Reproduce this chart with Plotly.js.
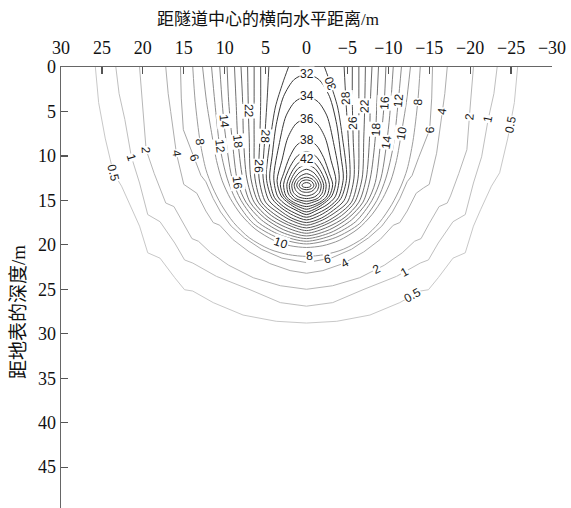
<!DOCTYPE html>
<html><head><meta charset="utf-8">
<script src="https://cdn.plot.ly/plotly-3.0.1.min.js"></script>
<style>html,body{margin:0;padding:0;background:#fff;}#chart{width:571px;height:508px;}</style>
</head><body><div id="chart"></div>
<script>
// ---- DATA ----
// contour levels
const levels = [0.5,1,2,4,6,8,10,12,14,16,18,20,22,24,26,28,30,32,34,36,38,40,42,44,46,48,50,52,54];
// half-profiles of each contour line: half-width from the tunnel axis (m) and depth (m), from top to bottom
const w_0_5 = [25.8,25.4,24.6,23.6,22.6,21.3,20.4,19.4,17.9,16.1,14.9,13.9,11.4,7.75,3.7,0];
const d_0_5 = [0,4,8,11.9,13.4,16,17.9,20.9,21.5,23.7,25.05,25.2,26.5,27.9,28.6,28.8];
const w_1 = [23.3,22.9,22.2,21.4,20.4,19.4,17.9,16.1,14.9,13.9,11.0,6.9,3.2,0];
const d_1 = [0,3,5.9,10.1,13.05,16.6,17.4,19.8,21.7,22.05,23.55,25.05,26.5,26.9];
const w_2 = [20.4,20.0,19.6,18.6,17.6,17.2,16.2,15.0,14.0,13.2,11.7,9.5,6.5,3.2,0];
const d_2 = [0,4.5,9.3,12,14.5,15.3,15.7,17.6,19.3,19.6,20.9,22.3,23.7,24.6,25.0];
const w_4 = [17.2,16.9,16.6,15.9,15.0,14.3,13.4,12.3,11.4,10.6,9.0,7.0,4.5,2.0,0];
const d_4 = [0,3,5,9.7,13.2,13.6,14.2,16.2,17.5,17.8,19.4,20.8,22.1,22.9,23.2];
const w_6 = [15.4,15.3,15.05,13.7,12.9,12.3,11.4,10.5,9.2,7.6,5.5,3.0,0];
const d_6 = [0,3.5,7.05,10.2,12.2,12.9,14.8,16.3,17.9,19.2,20.5,21.5,22.0];
const w_8 = [13.9,13.6,13.0,12.3,11.5,10.4,8.9,7.0,4.5,2.2,0];
const d_8 = [0,3.9,8.4,11.5,13.5,15.5,17.5,19.2,20.5,21.1,21.3];
const w_10 = [12.7,12.2,11.6,11.0,10.3,9.3,8.0,6.3,4.0,2.0,0];
const d_10 = [0,4,7.4,10.5,12.8,14.8,16.6,18.2,19.5,20.1,20.3];
const w_12 = [11.6,11.2,10.6,9.7,8.6,6.5,3.5,0];
const d_12 = [0,4,8.9,12.5,15,17.6,19.2,19.9];
const w_14 = [10.6,10.3,10.0,9.1,8.0,6.0,3.2,0];
const d_14 = [0,4,7,12.5,15,17.4,18.9,19.6];
const w_16 = [9.7,9.5,9.1,8.4,7.4,5.5,3.0,0];
const d_16 = [0,4,8,13,15.2,17.2,18.6,19.3];
const w_18 = [8.8,8.6,8.4,7.8,6.9,5.1,2.8,0];
const d_18 = [0,4,8,12.5,15.2,17.0,18.3,19.0];
const w_20 = [8.0,7.8,7.7,7.3,6.4,4.7,2.6,0];
const d_20 = [0,4,8,12.5,15.2,16.9,18.0,18.7];
const w_22 = [7.2,7.1,7.0,6.8,5.9,4.3,2.4,0];
const d_22 = [0,5,8,12.5,15.2,16.7,17.7,18.4];
const w_24 = [6.4,6.4,6.4,6.3,5.5,4.0,2.2,0];
const d_24 = [0,4,8,12.5,15.2,16.5,17.5,18.1];
const w_26 = [5.6,5.6,5.7,5.8,5.0,3.6,2.0,0];
const d_26 = [0,4,8,12.5,15.2,16.3,17.2,17.8];
const w_28 = [4.6,4.8,5.1,5.3,4.6,3.3,1.8,0];
const d_28 = [0,3.5,8,12.5,15.0,16.1,17.0,17.5];
const w_30 = [2.2,2.9,3.8,4.4,4.9,4.2,3.0,1.6,0];
const d_30 = [0,1.8,4.5,8,12.5,14.8,15.9,16.7,17.2];
const w_32 = [0,1.5,2.8,3.7,4.2,4.5,3.9,2.8,1.5,0];
const d_32 = [0.8,1.4,3.3,6.5,10,12.5,14.7,15.7,16.4,16.9];
const w_34 = [0,1.4,2.5,3.3,4.0,3.5,2.5,1.3,0];
const d_34 = [3.3,3.9,5.5,8.5,12.5,14.6,15.5,16.1,16.6];
const w_36 = [0,1.3,2.3,3.0,3.6,3.1,2.2,1.2,0];
const d_36 = [5.8,6.4,8,10.5,12.8,14.5,15.3,15.9,16.3];
const w_38 = [0,1.2,2.1,2.8,3.2,2.8,2.0,1.0,0];
const d_38 = [8.2,8.8,10.2,12,13.2,14.5,15.2,15.7,16.0];
const w_40 = [0,1.1,2.0,2.8,2.5,1.8,0.9,0];
const d_40 = [9.5,10,11.2,13.2,14.5,15.1,15.5,15.7];
const w_42 = [0,1.0,1.8,2.4,2.2,1.6,0.8,0];
const d_42 = [10.3,10.8,11.8,13.2,14.3,14.9,15.2,15.4];
const w_44 = [0,1.0,1.7,2.1,1.9,1.3,0];
const d_44 = [11.0,11.4,12.3,13.3,14.2,14.8,15.1];
const w_46 = [0,0.9,1.5,1.8,1.6,1.0,0];
const d_46 = [11.5,11.9,12.6,13.3,14.1,14.6,14.8];
const w_48 = [0,0.8,1.3,1.5,1.3,0.8,0];
const d_48 = [12.0,12.3,12.8,13.3,13.9,14.3,14.5];
const w_50 = [0,0.7,1.1,1.2,1.0,0.6,0];
const d_50 = [12.4,12.6,13.0,13.35,13.7,14.0,14.1];
const w_52 = [0,0.6,0.9,0.75,0.4,0];
const d_52 = [12.7,12.85,13.3,13.6,13.75,13.8];
const w_54 = [0,0.4,0.55,0.4,0];
const d_54 = [13.0,13.1,13.3,13.5,13.55];

// contour labels on the flanks: level, side (+1 = positive distance side), depth
const sideLabelLevel = [0.5,1,2,4,6,8,12,14,18,16,22,28,26, 30,28,22,16,12,8,4,2,1,0.5,26,18,14,10,6];
const sideLabelSide  = [1,1,1,1,1,1,1,1,1,1,1,1,1, -1,-1,-1,-1,-1,-1,-1,-1,-1,-1,-1,-1,-1,-1,-1];
const sideLabelDepth = [11.9,10.2,9.3,9.7,10.2,8.4,8.9,6.1,8.4,13.0,5.0,7.8,11.2, 1.8,3.5,4.4,4.0,3.7,3.9,5.0,5.6,5.9,6.5,6.3,7.05,8.4,7.4,7.05];
// contour labels near the bottom: level, horizontal distance
const bottomLabelLevel = [10,8,6,4,2,1,0.5];
const bottomLabelX     = [3.1,-0.4,-2.6,-4.7,-8.6,-12.0,-13.0];
// labels at the apex of the closed loops
const topLabelLevel = [32,34,36,38,42];

const xTickVals = [30,25,20,15,10,5,0,-5,-10,-15,-20,-25,-30];
const xTickText = ['30','25','20','15','10','5','0','\u22125','\u221210','\u221215','\u221220','\u221225','\u221230'];
const yTickVals = [0,5,10,15,20,25,30,35,40,45];

const xTitle = '距隧道中心的横向水平距离/m';
const yTitle = '距地表的深度/m';

// ---- BUILD ----
const W = 571, H = 508;
const M = {l:61, r:19, t:67, b:0};
const xRange = [30,-30], yRange = [49.6,0];
const kx = (W - M.l - M.r) / 60;            // px per m (x)
const ky = (H - M.t - M.b) / (yRange[0]-yRange[1]); // px per m (y)

const profiles = {
  0.5:[w_0_5,d_0_5],1:[w_1,d_1],2:[w_2,d_2],4:[w_4,d_4],6:[w_6,d_6],8:[w_8,d_8],10:[w_10,d_10],
  12:[w_12,d_12],14:[w_14,d_14],16:[w_16,d_16],18:[w_18,d_18],20:[w_20,d_20],22:[w_22,d_22],
  24:[w_24,d_24],26:[w_26,d_26],28:[w_28,d_28],30:[w_30,d_30],32:[w_32,d_32],34:[w_34,d_34],
  36:[w_36,d_36],38:[w_38,d_38],40:[w_40,d_40],42:[w_42,d_42],44:[w_44,d_44],46:[w_46,d_46],
  48:[w_48,d_48],50:[w_50,d_50],52:[w_52,d_52],54:[w_54,d_54]
};

function lineColor(lev){
  const i = levels.indexOf(lev);
  const t = Math.min(1, i/17);
  const g = Math.round(200 - t*(200-55));
  return 'rgb('+g+','+g+','+g+')';
}

const traces = levels.map(lev => {
  const [w,d] = profiles[lev];
  const xs = [], ys = [];
  for (let i=0;i<w.length;i++){ xs.push(w[i]); ys.push(d[i]); }
  for (let i=w.length-2;i>=0;i--){ xs.push(-w[i]); ys.push(d[i]); }
  return {type:'scatter', mode:'lines', x:xs, y:ys, hoverinfo:'skip', showlegend:false,
    line:{color:lineColor(lev), width:1, shape: lev<=6 ? 'linear':'spline', smoothing:0.8}};
});

function fmt(lev){ return String(lev); }
function angleAt(w,d,i,side){
  let dxp, dyp;
  if (side>0){ dxp = -(w[i+1]-w[i])*kx; dyp = (d[i+1]-d[i])*ky; }
  else { dxp = (w[i]-w[i+1])*kx; dyp = (d[i]-d[i+1])*ky; }
  return Math.atan2(dyp,dxp)*180/Math.PI;
}
const labelFont = {family:'Liberation Sans, Arial, sans-serif', size:12, color:'#1a1a1a'};
const annotations = [];
function addLabel(lev,x,y,ang){
  annotations.push({text:fmt(lev), x:x, y:y, xref:'x', yref:'y', showarrow:false,
    textangle:ang, font:labelFont, bgcolor:'#ffffff', borderpad:0, xanchor:'center', yanchor:'middle'});
}
sideLabelLevel.forEach((lev,k)=>{
  const [w,d] = profiles[lev]; const D = sideLabelDepth[k], s = sideLabelSide[k];
  for (let i=0;i<d.length-1;i++){
    if (D>=d[i] && D<=d[i+1]){
      const t=(D-d[i])/(d[i+1]-d[i]); const hw=w[i]+t*(w[i+1]-w[i]);
      addLabel(lev, s*hw, D, angleAt(w,d,i,s)); break;
    }
  }
});
bottomLabelLevel.forEach((lev,k)=>{
  const [w,d] = profiles[lev]; const X = bottomLabelX[k]; const s = X>=0?1:-1; const ax=Math.abs(X);
  for (let i=w.length-2;i>=0;i--){
    if (ax<=w[i] && ax>=w[i+1]){
      const t=(w[i]-ax)/(w[i]-w[i+1]); const D=d[i]+t*(d[i+1]-d[i]);
      addLabel(lev, X, D, angleAt(w,d,i,s)); break;
    }
  }
});
topLabelLevel.forEach(lev=>{
  const [w,d] = profiles[lev]; addLabel(lev, 0, d[0], 0);
});
// titles
annotations.push({text:xTitle, xref:'paper', yref:'paper', x:(268-M.l)/(W-M.l-M.r), y:(H-M.b-19)/(H-M.t-M.b),
  showarrow:false, xanchor:'center', yanchor:'middle',
  font:{family:'Liberation Serif, Noto Sans CJK SC, serif', size:17, color:'#111'}});
annotations.push({text:yTitle, xref:'paper', yref:'paper', x:(18-M.l)/(W-M.l-M.r), y:(H-M.b-312)/(H-M.t-M.b),
  showarrow:false, xanchor:'center', yanchor:'middle', textangle:-90,
  font:{family:'Liberation Serif, Noto Sans CJK SC, serif', size:19, color:'#111'}});

const tickFont = {family:'Liberation Serif, Times New Roman, serif', size:18, color:'#111'};
const layout = {
  width:W, height:H, margin:{l:M.l, r:M.r, t:M.t, b:M.b, pad:0},
  paper_bgcolor:'#ffffff', plot_bgcolor:'#ffffff', showlegend:false,
  xaxis:{side:'top', range:xRange, autorange:false, tickmode:'array', tickvals:xTickVals, ticktext:xTickText,
    ticks:'inside', ticklen:7, tickwidth:1.2, tickcolor:'#555', showline:true, linecolor:'#666', linewidth:1.5,
    showgrid:false, zeroline:false, tickfont:tickFont, fixedrange:true, ticklabelstandoff:4},
  yaxis:{range:yRange, autorange:false, tickmode:'array', tickvals:yTickVals,
    ticks:'inside', ticklen:7, tickwidth:1.2, tickcolor:'#555', showline:true, linecolor:'#666', linewidth:1.5,
    showgrid:false, zeroline:false, tickfont:tickFont, fixedrange:true},
  annotations:annotations
};
Plotly.newPlot('chart', traces, layout, {staticPlot:true, displayModeBar:false});
</script></body></html>
